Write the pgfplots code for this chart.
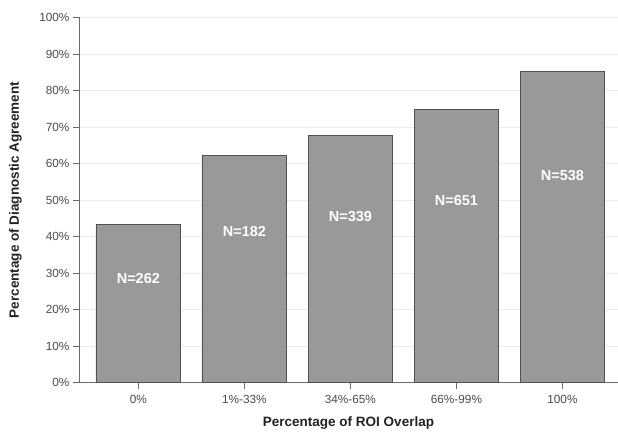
\documentclass[border=0pt]{standalone}
\usepackage{fontspec}
\setmainfont{Liberation Sans}
\usepackage{pgfplots}
\usepackage{pgfplotstable}
\pgfplotsset{compat=1.18}
\definecolor{barfill}{HTML}{999999}
\definecolor{baredge}{HTML}{505050}
\definecolor{axisgray}{HTML}{6A6A6A}
\definecolor{gridgray}{HTML}{EBEBEB}
\definecolor{ticktext}{HTML}{4A4A4A}
\definecolor{labeltext}{HTML}{222222}
\pgfplotstableread{
x y
0 43.2
1 62.2
2 67.8
3 74.8
4 85.3
}\bardata
\pgfplotstableread{
x y lab
0 28.6 N=262
1 41.3 N=182
2 45.4 N=339
3 49.9 N=651
4 56.8 N=538
}\labdata
\begin{document}
\begin{tikzpicture}
\begin{axis}[
  at={(0,0)}, anchor=south west,
  scale only axis, width=539pt, height=365pt,
  ymin=0, ymax=100, xmin=-0.56, xmax=4.524,
  ytick={0,10,...,100},
  yticklabel={\pgfmathprintnumber{\tick}\%},
  xtick={0,1,2,3,4},
  xticklabels={0\%,1\%-33\%,34\%-65\%,66\%-99\%,100\%},
  axis lines*=left,
  axis line style={draw=axisgray, line width=0.9pt},
  tick style={draw=axisgray, line width=0.9pt},
  tick align=outside, major tick length=6pt,
  ymajorgrids, grid style={draw=gridgray, line width=0.7pt},
  ticklabel style={font=\fontsize{11.8}{13}\selectfont, text=ticktext},
  xticklabel style={yshift=-3pt},
  /pgf/number format/assume math mode=true,
  xlabel={Percentage of ROI Overlap},
  ylabel={Percentage of Diagnostic Agreement},
  label style={font=\bfseries\fontsize{13.5}{16}\selectfont, text=labeltext},
  xlabel style={at={(axis description cs:0.5,-0.11)}, anchor=center},
  ylabel style={at={(axis description cs:-0.1178,0.5)}, anchor=center},
]
\addplot[ybar, bar width=0.8, fill=barfill, draw=baredge, line width=0.8pt] table[x=x,y=y] {\bardata};
\addplot[draw=none, mark=none, nodes near coords, point meta=explicit symbolic,
  nodes near coords style={anchor=center, text=white, font=\bfseries\fontsize{14.5}{16}\selectfont}]
  table[x=x, y=y, meta=lab] {\labdata};
\end{axis}
\pgfresetboundingbox
\path (-79pt,-48.5pt) rectangle (539pt,382.5pt);
\end{tikzpicture}
\end{document}
